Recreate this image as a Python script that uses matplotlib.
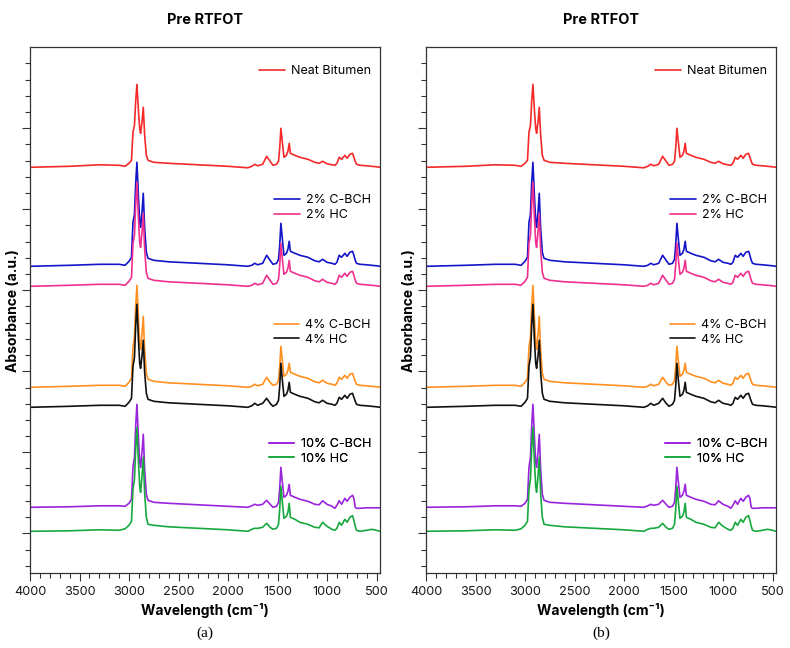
import numpy as np
import matplotlib
matplotlib.use("Agg")
import matplotlib.pyplot as plt
from matplotlib.ticker import MultipleLocator, FixedLocator

# ---------------- data (absorbance, a.u., relative to each spectrum's own baseline) ----------------
wavenumber = [4000, 3600, 3300, 3100, 3040, 3000, 2975, 2960, 2945, 2932,
              2920, 2905, 2892, 2883, 2868, 2856, 2842, 2825, 2808, 2750,
              2600, 2300, 2000, 1800, 1760, 1730, 1700, 1650, 1610, 1575,
              1546, 1510, 1490, 1478, 1466, 1452, 1435, 1410, 1395, 1382,
              1370, 1325, 1274, 1193, 1123, 1080, 1045, 1000, 950, 921,
              900, 877, 853, 820, 797, 769, 742, 729, 715, 702,
              668, 600, 550, 500, 465]

neat_bitumen = [0.00, 0.01, 0.025, 0.02, 0.01, 0.04, 0.07, 0.35, 0.42, 0.67,
                0.83, 0.57, 0.39, 0.34, 0.46, 0.60, 0.32, 0.12, 0.07, 0.05,
                0.04, 0.025, 0.01, -0.005, 0.01, 0.03, 0.015, 0.03, 0.11, 0.06,
                0.02, 0.03, 0.06, 0.19, 0.39, 0.26, 0.10, 0.12, 0.16, 0.24,
                0.14, 0.12, 0.10, 0.08, 0.05, 0.04, 0.06, 0.035, 0.025, 0.02,
                0.04, 0.10, 0.08, 0.12, 0.09, 0.13, 0.14, 0.10, 0.06, 0.03,
                0.02, 0.015, 0.01, 0.005, 0.00]

cbch_2 = [0.00, 0.01, 0.02, 0.02, 0.01, 0.05, 0.09, 0.44, 0.52, 0.84,
          1.04, 0.70, 0.45, 0.39, 0.55, 0.73, 0.38, 0.14, 0.08, 0.06,
          0.045, 0.03, 0.015, 0.00, 0.01, 0.03, 0.015, 0.03, 0.11, 0.06,
          0.02, 0.03, 0.07, 0.21, 0.43, 0.28, 0.11, 0.13, 0.17, 0.25,
          0.15, 0.13, 0.11, 0.09, 0.055, 0.045, 0.07, 0.04, 0.03, 0.02,
          0.04, 0.11, 0.09, 0.13, 0.10, 0.14, 0.15, 0.11, 0.06, 0.03,
          0.02, 0.015, 0.01, 0.005, 0.00]

hc_2 = [0.00, 0.01, 0.02, 0.02, 0.01, 0.05, 0.09, 0.43, 0.51, 0.83,
        1.04, 0.69, 0.44, 0.39, 0.55, 0.73, 0.37, 0.14, 0.08, 0.06,
        0.045, 0.03, 0.015, 0.00, 0.01, 0.03, 0.015, 0.03, 0.11, 0.06,
        0.02, 0.03, 0.07, 0.21, 0.43, 0.28, 0.12, 0.14, 0.18, 0.26,
        0.15, 0.13, 0.11, 0.09, 0.055, 0.045, 0.07, 0.04, 0.03, 0.02,
        0.04, 0.11, 0.09, 0.13, 0.10, 0.14, 0.15, 0.11, 0.06, 0.03,
        0.02, 0.015, 0.01, 0.005, 0.00]

cbch_4 = [0.00, 0.01, 0.02, 0.02, 0.01, 0.05, 0.09, 0.40, 0.50, 0.82,
          1.02, 0.69, 0.44, 0.38, 0.54, 0.71, 0.37, 0.14, 0.08, 0.06,
          0.045, 0.03, 0.015, 0.00, 0.01, 0.03, 0.015, 0.03, 0.10, 0.05,
          0.02, 0.03, 0.07, 0.20, 0.41, 0.27, 0.11, 0.13, 0.17, 0.24,
          0.15, 0.13, 0.11, 0.09, 0.055, 0.045, 0.07, 0.04, 0.03, 0.02,
          0.04, 0.10, 0.08, 0.12, 0.09, 0.13, 0.14, 0.10, 0.06, 0.03,
          0.02, 0.015, 0.01, 0.005, 0.00]

hc_4 = [0.00, 0.01, 0.02, 0.02, 0.01, 0.05, 0.09, 0.41, 0.50, 0.83,
        1.03, 0.68, 0.44, 0.39, 0.52, 0.67, 0.35, 0.14, 0.08, 0.06,
        0.045, 0.03, 0.015, 0.00, 0.015, 0.04, 0.02, 0.04, 0.09, 0.04,
        0.01, 0.03, 0.07, 0.21, 0.44, 0.28, 0.11, 0.13, 0.17, 0.25,
        0.15, 0.13, 0.11, 0.09, 0.055, 0.045, 0.07, 0.04, 0.03, 0.02,
        0.04, 0.10, 0.08, 0.12, 0.09, 0.13, 0.14, 0.10, 0.06, 0.03,
        0.02, 0.015, 0.01, 0.005, 0.00]

cbch_10 = [0.00, 0.005, 0.015, 0.015, 0.01, 0.04, 0.08, 0.40, 0.50, 0.82,
           1.03, 0.70, 0.45, 0.40, 0.56, 0.73, 0.38, 0.13, 0.07, 0.05,
           0.04, 0.025, 0.01, 0.00, 0.015, 0.03, 0.02, 0.03, 0.07, 0.03,
           0.00, 0.01, 0.05, 0.19, 0.40, 0.26, 0.10, 0.12, 0.16, 0.23,
           0.12, 0.10, 0.08, 0.06, 0.03, 0.025, 0.065, 0.03, 0.01, -0.01,
           0.02, 0.065, 0.03, 0.09, 0.06, 0.10, 0.12, 0.09, 0.00, -0.01,
           -0.01, -0.005, -0.005, -0.005, -0.005]

hc_10 = [0.00, 0.005, 0.015, 0.01, 0.025, 0.06, 0.10, 0.42, 0.52, 0.84,
         1.04, 0.70, 0.45, 0.39, 0.56, 0.74, 0.38, 0.14, 0.07, 0.06,
         0.045, 0.03, 0.015, 0.00, 0.02, 0.03, 0.03, 0.04, 0.08, 0.04,
         0.02, 0.03, 0.07, 0.22, 0.45, 0.30, 0.13, 0.15, 0.19, 0.28,
         0.14, 0.12, 0.09, 0.07, 0.04, 0.035, 0.09, 0.05, 0.02, 0.01,
         0.03, 0.09, 0.06, 0.12, 0.09, 0.14, 0.157, 0.11, 0.05, 0.01,
         0.00, 0.01, 0.02, 0.01, 0.00]

labels = ["Neat Bitumen", "2% C-BCH", "2% HC", "4% C-BCH", "4% HC", "10% C-BCH", "10% HC"]
series = [neat_bitumen, cbch_2, hc_2, cbch_4, hc_4, cbch_10, hc_10]

# ---------------- styling / layout ----------------
stack_offsets = [3.66, 2.67, 2.47, 1.46, 1.26, 0.26, 0.02]
colors = ["#f42a2a", "#1414c8", "#f0308e", "#ff8f1f", "#111111", "#9a24dc", "#17a83e"]
legend_groups = [([0], 0.955), ([1, 2], 0.695), ([3, 4], 0.458), ([5, 6], 0.232)]

FONT = ["Inter", "DejaVu Sans"]
plt.rcParams["font.family"] = FONT

W, H = 790, 648
fig = plt.figure(figsize=(W / 100, H / 100), dpi=100)

panel_left = [30, 426]
panel_tags = ["(a)", "(b)"]
ax_w = 350
ax_top, ax_bot = 47.3, 573.3

for pl, tag in zip(panel_left, panel_tags):
    ax = fig.add_axes([pl / W, 1 - ax_bot / H, ax_w / W, (ax_bot - ax_top) / H])
    lines = []
    for vals, off, col, lab in zip(series, stack_offsets, colors, labels):
        y = np.asarray(vals) + off
        ln, = ax.plot(wavenumber, y, color=col, lw=1.2, label=lab,
                      solid_joinstyle="round", solid_capstyle="round")
        lines.append(ln)
    ax.set_xlim(4000, 465)
    ax.set_ylim(-0.40, 4.86)

    ax.xaxis.set_major_locator(MultipleLocator(500))
    ax.xaxis.set_minor_locator(MultipleLocator(100))
    ax.yaxis.set_major_locator(FixedLocator(np.arange(0, 4.5, 0.81)))
    ax.yaxis.set_minor_locator(FixedLocator(np.arange(-0.324, 4.75, 0.162)))
    ax.set_yticklabels([])
    ax.tick_params(axis="both", which="major", direction="out", length=5.5, width=0.8,
                   color="#333333", labelsize=9.2, labelcolor="#1a1a1a", pad=4)
    ax.tick_params(axis="both", which="minor", direction="out", length=3.4, width=0.8,
                   color="#333333")
    ax.tick_params(axis="y", which="both", labelleft=False)
    for s in ax.spines.values():
        s.set_linewidth(0.9)
        s.set_color("#333333")

    ax.set_xlabel("Wavelength (cm\u207b\u00b9)", fontsize=10, fontweight="bold", labelpad=3)
    ax.set_ylabel("Absorbance (a.u.)", fontsize=10, fontweight="bold", labelpad=2)
    ax.set_title("Pre RTFOT", fontsize=10.5, fontweight="bold", pad=17)

    for idxs, yc in legend_groups:
        leg = ax.legend([lines[i] for i in idxs], [labels[i] for i in idxs],
                        loc="center right", bbox_to_anchor=(0.974, yc),
                        frameon=False, borderaxespad=0, borderpad=0,
                        handlelength=2.05, handletextpad=0.5, labelspacing=0.2,
                        prop={"family": FONT, "size": 9})
        ax.add_artist(leg)

    fig.text((pl + ax_w / 2) / W, 1 - 633 / H, tag, ha="center", va="center",
             family=["Liberation Serif", "DejaVu Serif"], fontsize=11)

fig.savefig("out.png", dpi=100)
